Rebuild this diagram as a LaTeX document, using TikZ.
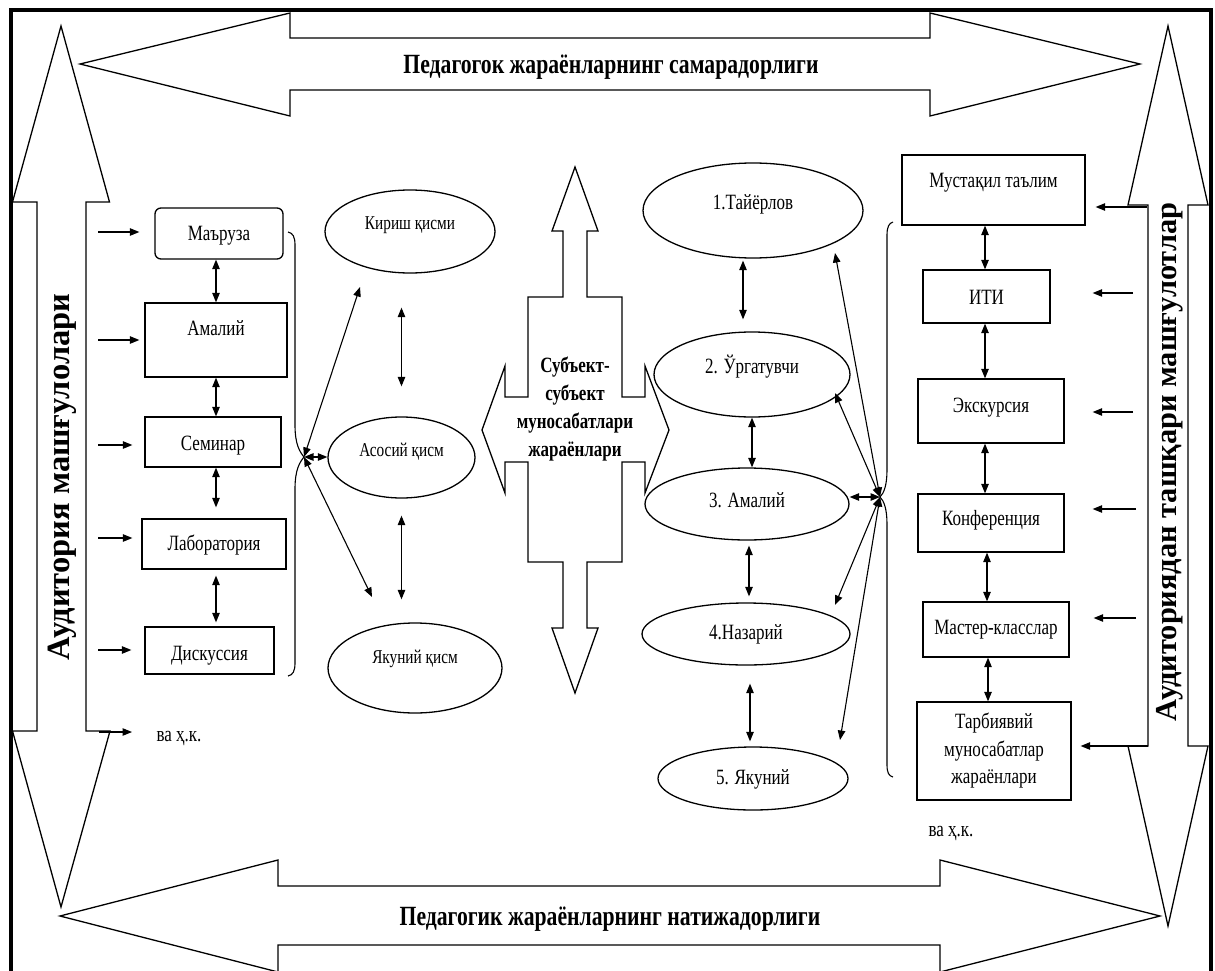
\documentclass[tikz,border=0pt]{standalone}
\usepackage{fontspec}
\setmainfont{Liberation Serif}[FakeStretch=0.78]
\newfontfamily\rotfont{Liberation Serif}
\usetikzlibrary{arrows.meta,shapes.geometric}
\begin{document}
\begin{tikzpicture}[x=1pt,y=-1pt,line width=1.1pt,
  >={Triangle[length=9.5pt,width=7.5pt]},
  box/.style={draw,line width=1.3pt,rectangle,inner sep=0pt,font=\fontsize{21.8}{26}\selectfont,text height=15.3pt},
  ell/.style={draw,line width=1.3pt,ellipse,inner sep=0pt,font=\fontsize{21.8}{26}\selectfont,text height=15.3pt},
  sell/.style={ell,font=\fontsize{19.6}{24}\selectfont,text height=13.7pt},
  dar/.style={<->},
  sar/.style={->},
  big/.style={draw,line width=1.3pt,line join=miter},
  ttl/.style={font=\fontsize{27.8}{32}\selectfont\bfseries,text height=18.4pt,text depth=0pt,inner sep=0pt},
  side/.style={font=\rotfont\bfseries\fontsize{30.4}{36}\selectfont,rotate=90,inner sep=0pt},
  plain/.style={font=\fontsize{21.8}{26}\selectfont,inner sep=0pt}
]
\useasboundingbox (0,0) rectangle (1215,971);

% big frame arrows
\draw[big] (80,64) -- (290,13) -- (290,38) -- (930,38) -- (930,13) -- (1140,64) -- (930,116) -- (930,90) -- (290,90) -- (290,116) -- cycle;
\draw[big] (60,916) -- (278,860) -- (278,886) -- (940,886) -- (940,860) -- (1160,916) -- (940,972) -- (940,945) -- (278,945) -- (278,972) -- cycle;
\draw[big] (61,26) -- (109.5,202) -- (86,202) -- (86,731) -- (110,731) -- (61,907) -- (12.5,731) -- (37,731) -- (37,202) -- (12.5,202) -- cycle;
\draw[big] (1168,26) -- (1208,205) -- (1188,205) -- (1188,746) -- (1208,746) -- (1168,926) -- (1128,746) -- (1148,746) -- (1148,205) -- (1128,205) -- cycle;

\node[ttl] (ttop) at (611,64) {Педагогок жараёнларнинг самарадорлиги};
\node[ttl] (tbot) at (610,916) {Педагогик жараёнларнинг натижадорлиги};
\node[side,font=\rotfont\bfseries\fontsize{32.5}{38}\selectfont] (sl) at (62,477) {Аудитория машғулолари};
\node[side] (sr) at (1170,462) {Аудиториядан ташқари машғулотлар};

% central quad arrow
\draw[big] (575,167) -- (598,231) -- (587,231) -- (587,297) -- (622,297) -- (622,397) -- (645,397) -- (645,366) -- (669,430) -- (645,493) -- (645,462) -- (622,462) -- (622,562) -- (587,562) -- (587,628) -- (598,628) -- (575,693) -- (552,628) -- (563,628) -- (563,562) -- (528,562) -- (528,462) -- (505,462) -- (505,493) -- (482,430) -- (505,366) -- (505,397) -- (528,397) -- (528,297) -- (563,297) -- (563,231) -- (552,231) -- cycle;
\node[font=\fontsize{21.8}{28}\selectfont\bfseries,align=center,inner sep=0pt] (subj) at (575,409) {Субъект-\\субъект\\муносабатлари\\жараёнлари};

% left boxes
\node[box,rounded corners=6pt,minimum width=128pt,minimum height=51pt,text depth=1pt] (mar) at (219,233.5) {Маъруза};
\node[box,minimum width=142pt,minimum height=74pt,text depth=24pt] (ama) at (216,340) {Амалий};
\node[box,minimum width=136pt,minimum height=50pt,text height=17.2pt,text depth=0pt] (sem) at (213,442) {Семинар};
\node[box,minimum width=144pt,minimum height=50pt,text depth=2pt] (lab) at (214,544) {Лаборатория};
\node[box,minimum width=129pt,minimum height=47pt,text height=20.2pt,text depth=0pt] (dis) at (209.5,650.5) {Дискуссия};
\node[plain,anchor=west] (vaL) at (156,738) {ва ҳ.к.};

\coordinate (colL) at (216,0);
\draw[dar] (mar.south -| colL) -- (ama.north -| colL);
\draw[dar] (ama.south -| colL) -- (sem.north -| colL);
\draw[dar,shorten >=11pt] (sem.south -| colL) -- (lab.north -| colL);
\draw[dar,shorten <=6pt,shorten >=4pt] (lab.south -| colL) -- (dis.north -| colL);

\coordinate (in1) at (98,232);
\coordinate (in2) at (98,340);
\coordinate (in3) at (98,445);
\coordinate (in4) at (98,538);
\coordinate (in5) at (98,650);
\coordinate (in6) at (99,732);
\draw[sar,shorten >=15pt] (in1) -- (in1 -| mar.west);
\draw[sar,shorten >=5pt] (in2) -- (in2 -| ama.west);
\draw[sar,shorten >=12pt] (in3) -- (in3 -| sem.west);
\draw[sar,shorten >=9pt] (in4) -- (in4 -| lab.west);
\draw[sar,shorten >=13pt] (in5) -- (in5 -| dis.west);
\draw[sar,shorten >=24pt] (in6) -- (in6 -| vaL.west);

% left bracket and hub
\coordinate (hubL) at (304,457);
\draw (288,232) .. controls (293,233) and (295,237) .. (295,245) -- (295,425) .. controls (295,445) and (300,452) .. (hubL) .. controls (300,462) and (295,469) .. (295,489) -- (295,663) .. controls (295,671) and (293,675) .. (288,676);

% left ellipses
\node[sell,minimum width=170pt,minimum height=83pt,text depth=17pt] (kir) at (410,231.5) {Кириш қисми};
\node[sell,minimum width=147pt,minimum height=81pt,text depth=15pt] (aso) at (401.5,457.5) {Асосий қисм};
\node[sell,minimum width=174pt,minimum height=90pt,text depth=22pt] (yak) at (415,668) {Якуний қисм};
\coordinate (kirT) at (360,287);
\coordinate (yakT) at (372,597);
\draw[dar] (hubL) -- (kirT);
\draw[dar] (hubL) -- (hubL -| aso.west);
\draw[dar] (hubL) -- (yakT);
\draw[dar,shorten <=34pt,shorten >=30pt] (kir.south -| aso.north) -- (aso.north);
\draw[dar,shorten <=17pt,shorten >=23pt] (aso.south) -- (aso.south |- yak.north);

% right ellipses
\node[ell,minimum width=220pt,minimum height=95pt,text depth=17pt] (e1) at (753,210.5) {1.Тайёрлов};
\node[ell,minimum width=196pt,minimum height=85pt,text depth=17pt] (e2) at (752,374.5) {2. Ўргатувчи};
\node[ell,minimum width=204pt,minimum height=72pt,text depth=8pt] (e3) at (747,504) {3. Амалий};
\node[ell,minimum width=208pt,minimum height=62pt,text depth=4pt] (e4) at (746,634) {4.Назарий};
\node[ell,minimum width=190pt,minimum height=63pt,text depth=3pt] (e5) at (753,778.5) {5. Якуний};

\draw[dar,shorten <=2pt,shorten >=12pt] ([xshift=-10pt]e1.south) -- ([xshift=-10pt]e1.south |- e2.north);
\draw[dar] (e2.south) -- (e2.south |- e3.north);
\draw[dar,shorten <=5pt,shorten >=6pt] ([xshift=2pt]e3.south) -- ([xshift=2pt]e3.south |- e4.north);
\draw[dar,shorten <=18pt,shorten >=5pt] ([xshift=4pt]e4.south) -- ([xshift=4pt]e4.south |- e5.north);

% right bracket and hub
\coordinate (hubR) at (880,497);
\draw (893,222) .. controls (889,223) and (887,227) .. (887,235) -- (887,470) .. controls (887,485) and (884,493) .. (hubR) .. controls (884,501) and (887,509) .. (887,524) -- (887,765) .. controls (887,773) and (889,776) .. (893,777);
\coordinate (e1T) at (835,253);
\coordinate (e2T) at (835,393);
\coordinate (e4T) at (835,605);
\coordinate (e5T) at (840,740);
\draw[dar] (hubR) -- (e1T);
\draw[dar] (hubR) -- (e2T);
\draw[dar] (hubR) -- (hubR -| e3.east);
\draw[dar] (hubR) -- (e4T);
\draw[dar] (hubR) -- (e5T);

% right boxes
\node[box,minimum width=183pt,minimum height=70pt,text depth=20pt] (mus) at (993.5,190) {Мустақил таълим};
\node[box,minimum width=127pt,minimum height=53pt,text height=16.2pt,text depth=0pt] (iti) at (986.5,296.5) {ИТИ};
\node[box,minimum width=146pt,minimum height=64pt,text depth=12pt] (eks) at (991,411) {Экскурсия};
\node[box,minimum width=146pt,minimum height=58pt,text depth=10pt] (kon) at (991,523) {Конференция};
\node[box,minimum width=146pt,minimum height=55pt,text depth=5pt] (mas) at (996,629.5) {Мастер-класслар};
\node[box,minimum width=154pt,minimum height=98pt,text height=,text depth=,align=center,font=\fontsize{21.8}{27.5}\selectfont] (tar) at (994,751) {Тарбиявий\\муносабатлар\\жараёнлари};
\node[plain,anchor=west] (vaR) at (928,833) {ва ҳ.к.};

\coordinate (colR) at (985,0);
\draw[dar] (mus.south -| colR) -- (iti.north -| colR);
\draw[dar] (iti.south -| colR) -- (eks.north -| colR);
\draw[dar] (eks.south -| colR) -- (kon.north -| colR);
\draw[dar] ([xshift=2pt]kon.south -| colR) -- ([xshift=2pt]mas.north -| colR);
\draw[dar] ([xshift=3pt]mas.south -| colR) -- ([xshift=3pt]tar.north -| colR);

\coordinate (r1) at (1147,207);
\coordinate (r2) at (1133,293);
\coordinate (r3) at (1133,412);
\coordinate (r4) at (1136,509);
\coordinate (r5) at (1136,618);
\coordinate (r6) at (1148,746);
\draw[sar,shorten >=10pt] (r1) -- (r1 -| mus.east);
\draw[sar,shorten >=42pt] (r2) -- (r2 -| iti.east);
\draw[sar,shorten >=28pt] (r3) -- (r3 -| eks.east);
\draw[sar,shorten >=28pt] (r4) -- (r4 -| kon.east);
\draw[sar,shorten >=24pt] (r5) -- (r5 -| mas.east);
\draw[sar,shorten >=9pt] (r6) -- (r6 -| tar.east);

% outer frame
\draw[line width=4pt] (10.5,10) rectangle (1210.5,995);
\end{tikzpicture}
\end{document}
